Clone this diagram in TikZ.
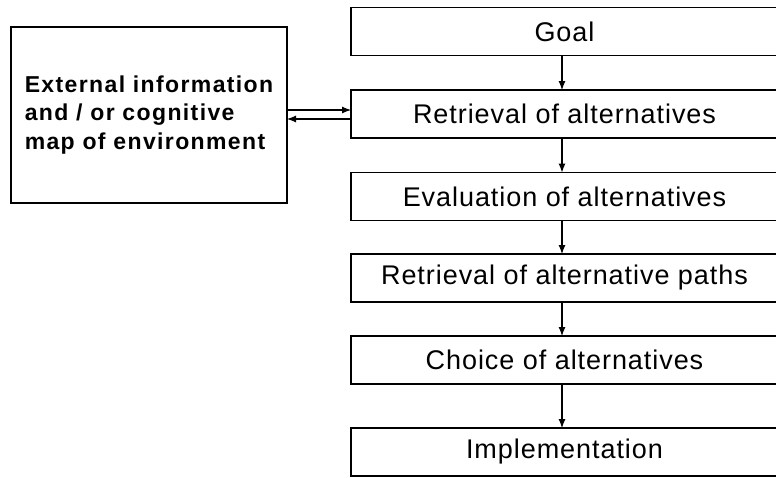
\documentclass[tikz,border=0pt]{standalone}
\usepackage{fontspec}
\setmainfont{Liberation Sans}
\newfontfamily\stepfont[LetterSpace=3.5]{Liberation Sans}
\newfontfamily\extfont[LetterSpace=6]{Liberation Sans}
\usetikzlibrary{arrows.meta}
\tikzset{
  stepbox/.style={draw, line width=1.2pt, inner sep=0pt, outer sep=0pt,
    minimum width=427pt, minimum height=48pt,
    font=\stepfont\fontsize{27}{32}\selectfont},
  extbox/.style={draw, line width=1.2pt, inner sep=0pt, outer sep=0pt,
    minimum width=276pt, minimum height=176pt, align=left,
    font=\extfont\bfseries\fontsize{23}{28.5}\selectfont},
  flow/.style={line width=1.1pt, -{Latex[length=9pt,width=7pt]}}
}
\begin{document}
\begin{tikzpicture}[x=1pt, y=-1pt]
  \useasboundingbox (0,0) rectangle (776,477);
  % decision steps
  \node[stepbox] (goal) at (564.5,31.5) {Goal};
  \node[stepbox] (ret)  at (564.5,114)  {Retrieval of alternatives};
  \node[stepbox] (eval) at (564.5,196.5){Evaluation of alternatives};
  \node[stepbox] (path) at (564.5,278)  {Retrieval of alternative paths};
  \node[stepbox] (choice) at (564.5,360){Choice of alternatives};
  \node[stepbox] (impl) at (564.5,452)  {Implementation};
  % information source
  \node[extbox] (ext) at (149,115) {External information\\and / or cognitive\\map of environment};
  % connectors
  \coordinate (ax) at (562,0);
  \coordinate (ya) at (0,110);
  \coordinate (yb) at (0,119);
  \draw[flow] (goal.south -| ax) -- (ret.north -| ax);
  \draw[flow] (ret.south -| ax) -- (eval.north -| ax);
  \draw[flow] (eval.south -| ax) -- (path.north -| ax);
  \draw[flow] (path.south -| ax) -- (choice.north -| ax);
  \draw[flow] (choice.south -| ax) -- (impl.north -| ax);
  \draw[flow] (ext.east |- ya) -- (ret.west |- ya);
  \draw[flow] (ret.west |- yb) -- (ext.east |- yb);
\end{tikzpicture}
\end{document}
